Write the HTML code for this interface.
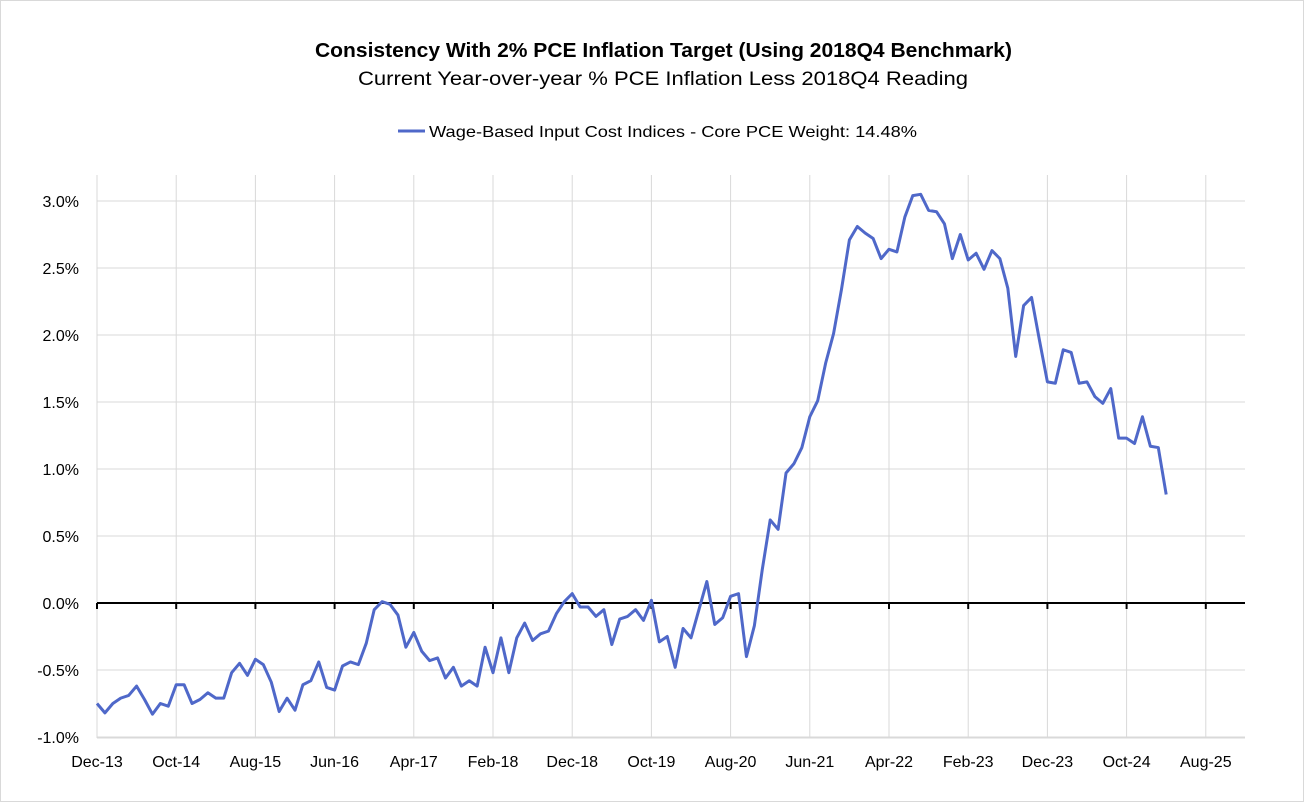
<!DOCTYPE html>
<html><head><meta charset="utf-8"><style>
html,body{margin:0;padding:0;background:#fff}
svg{display:block;font-family:"Liberation Sans",sans-serif}
</style></head><body>
<svg width="1304" height="802" viewBox="0 0 1304 802">
<rect x="0.5" y="0.5" width="1303" height="801" fill="#fff" stroke="#d9d9d9"/>
<text x="315" y="57" textLength="697" lengthAdjust="spacingAndGlyphs" font-size="20" font-weight="bold" fill="#000">Consistency With 2% PCE Inflation Target (Using 2018Q4 Benchmark)</text>
<text x="358" y="85" textLength="610" lengthAdjust="spacingAndGlyphs" font-size="19" fill="#000">Current Year-over-year % PCE Inflation Less 2018Q4 Reading</text>
<g>
<line x1="398" y1="131" x2="425" y2="131" stroke="#4f68c9" stroke-width="3"/>
<text x="429" y="137" textLength="488" lengthAdjust="spacingAndGlyphs" font-size="16" fill="#000">Wage-Based Input Cost Indices - Core PCE Weight: 14.48%</text>
</g>
<g id="grid"></g><g id="axes"></g><g id="series"></g>
</svg>
<script>
const xTickLabels=["Dec-13","Oct-14","Aug-15","Jun-16","Apr-17","Feb-18","Dec-18","Oct-19","Aug-20","Jun-21","Apr-22","Feb-23","Dec-23","Oct-24","Aug-25"];
const yTicks=[-1.0,-0.5,0.0,0.5,1.0,1.5,2.0,2.5,3.0];
const seriesValues=[-0.75,-0.82,-0.75,-0.71,-0.69,-0.62,-0.72,-0.83,-0.75,-0.77,-0.61,-0.61,-0.75,-0.72,-0.67,-0.71,-0.71,-0.52,-0.45,-0.54,-0.42,-0.46,-0.59,-0.81,-0.71,-0.80,-0.61,-0.58,-0.44,-0.63,-0.65,-0.47,-0.44,-0.46,-0.30,-0.05,0.01,-0.01,-0.09,-0.33,-0.22,-0.36,-0.43,-0.41,-0.56,-0.48,-0.62,-0.58,-0.62,-0.33,-0.52,-0.26,-0.52,-0.26,-0.15,-0.28,-0.23,-0.21,-0.08,0.01,0.07,-0.03,-0.03,-0.10,-0.05,-0.31,-0.12,-0.10,-0.05,-0.13,0.02,-0.29,-0.25,-0.48,-0.19,-0.26,-0.05,0.16,-0.16,-0.11,0.05,0.07,-0.40,-0.17,0.25,0.62,0.55,0.97,1.04,1.16,1.39,1.51,1.79,2.01,2.34,2.71,2.81,2.76,2.72,2.57,2.64,2.62,2.88,3.04,3.05,2.93,2.92,2.83,2.57,2.75,2.56,2.61,2.49,2.63,2.57,2.35,1.84,2.22,2.28,1.96,1.65,1.64,1.89,1.87,1.64,1.65,1.54,1.49,1.60,1.23,1.23,1.19,1.39,1.17,1.16,0.81];
const NS="http://www.w3.org/2000/svg";
const X0=97,PXM=7.92,PL=97,PR=1245,PT=175,PB=738;
function xs(i){return X0+i*PXM;}
function ys(v){return 603-v*134;}
function mk(t,a,p){const e=document.createElementNS(NS,t);for(const k in a)e.setAttribute(k,a[k]);p.appendChild(e);return e;}
const grid=document.getElementById('grid'),axes=document.getElementById('axes'),ser=document.getElementById('series');
yTicks.forEach(v=>{
 if(v!==0){const l=mk('line',{x1:PL,x2:PR,y1:ys(v),y2:ys(v),stroke:'#d9d9d9','stroke-width':1},grid);
 
 }
 const t=mk('text',{x:79,y:ys(v)+6,'text-anchor':'end','font-size':16,fill:'#000'},axes);
 t.textContent=v.toFixed(1)+'%';
 
 
});
xTickLabels.forEach((s,i)=>{
 const x=xs(i*10);
 if(i>0){const l=mk('line',{x1:x,x2:x,y1:PT,y2:PB,stroke:'#d9d9d9','stroke-width':1},grid);
 
 }
 const tk=mk('line',{x1:x,x2:x,y1:603,y2:609,stroke:'#000','stroke-width':2},axes);
 
 
 const t=mk('text',{x:x,y:767,'text-anchor':'middle','font-size':16,fill:'#000'},axes);
 t.textContent=s;
 
 
});
const lb=mk('line',{x1:PL,x2:PL,y1:PT,y2:PB,stroke:'#d9d9d9'},grid);


const lbb=mk('line',{x1:PL,x2:PR,y1:PB,y2:PB,stroke:'#d9d9d9'},grid);


const z=mk('line',{x1:PL,x2:PR,y1:ys(0),y2:ys(0),stroke:'#000','stroke-width':2},axes);


const p=mk('polyline',{points:seriesValues.map((v,i)=>xs(i)+','+ys(v)).join(' '),fill:'none',stroke:'#4f68c9','stroke-width':3,'stroke-linejoin':'round'},ser);


</script>
</body></html>
